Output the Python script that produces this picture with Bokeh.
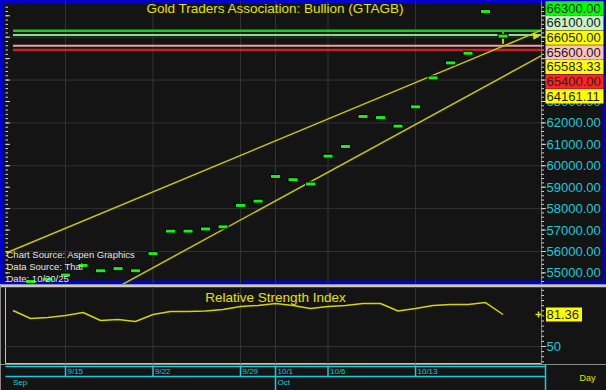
import math
from bokeh.plotting import figure
from bokeh.layouts import column
from bokeh.models import Range1d
from bokeh.core.properties import value
from bokeh.embed import file_html
from bokeh.resources import INLINE

# ---------------- data ----------------
dates = ["9/10", "9/11", "9/12", "9/15", "9/16", "9/17", "9/18", "9/19",
         "9/22", "9/23", "9/24", "9/25", "9/26", "9/29", "9/30", "10/1",
         "10/2", "10/3", "10/6", "10/7", "10/8", "10/9", "10/10", "10/13",
         "10/14", "10/15", "10/16", "10/17", "10/20"]
price_dates = dates[1:]
closes = [54600, 54700, 54900, 55350, 55100, 55200, 55100, 55900,
          56950, 56950, 57050, 57150, 58150, 58350, 59500, 59350, 59150,
          60450, 60900, 62300, 62250, 61850, 62750, 64100, 64800, 65250,
          67200, 66050]
last_high = 66230
last_low = 65700
rsi_values = [85.3, 77.4, 78.4, 80.4, 83.3, 75.5, 76.5, 74.5, 81.4, 84.3,
              84.3, 84.8, 86.3, 89.2, 90.2, 92.1, 90.2, 87.2, 89.2, 90.2,
              92.1, 92.1, 84.8, 87.2, 90.2, 91.2, 91.2, 93.1, 81.36]
rsi_last_text = "81.36"

level_values = [66300, 66100, 65600, 65400]
level_colors = ["#1ccc1c", "#86e086", "#e8a4a4", "#cc2020"]
level_widths = [2.5, 2.0, 2.0, 2.5]

upper_trend_x = [-0.4, 30.2]
upper_trend_y = [55930, 66330]
lower_trend_x = [6.0, 30.2]
lower_trend_y = [54350, 65140]

flag_texts = ["66300.00", "66100.00", "66050.00", "65600.00", "65583.33", "65400.00", "64161.11"]
flag_colors = ["#00ff00", "#c6f2c6", "#ffff00", "#ffc0c0", "#ffff00", "#ff2424", "#ffff00"]

price_ticks = list(range(55000, 68000, 1000))
price_minor = list(range(54600, 67600, 200))
price_grid = list(range(56000, 68000, 2000))
rsi_ticks = [50]
rsi_minor = list(range(35, 110, 5))
date_tick_labels = ["9/15", "9/22", "9/29", "10/1", "10/6", "10/13"]
month_labels = ["Sep", "Oct"]
month_first_dates = ["9/10", "10/1"]

title_text = "Gold Traders Association: Bullion (GTAGB)"
source_lines = ["Chart Source: Aspen Graphics", "Data Source: Thai", "Date: 10/20/25"]
rsi_title = "Relative Strength Index"
period_text = "Day"

# ---------------- layout helpers (reference pixel -> data) ----------------
FONT = value("Liberation Sans")
BG = "#141414"
CYAN = "#1cc8dc"
YEL = "#e2e200"
TREND = "#c8c800"
GRID = "#323232"
TICK = "#d8d8d8"
DARK_TEXT = "#202020"


def ix(px):
    return (px - 12.5) / 17.5


def pv(py):
    return 58000 + (208 - py) / 20.9 * 1000


def rv(py):
    return 50 + (346 - py) / 1.0204


x_idx = list(range(len(dates)))
price_idx = [dates.index(d) for d in price_dates]
tick_idx = [dates.index(t) for t in date_tick_labels]
month_idx = [dates.index(d) for d in month_first_dates]


def panel(height, top_py, bottom_py, yfun):
    f = figure(frame_width=606, frame_height=height,
               x_range=Range1d(ix(0), ix(606)),
               y_range=Range1d(yfun(bottom_py), yfun(top_py)),
               x_axis_location=None, y_axis_location=None,
               output_backend="svg", toolbar_location=None, min_border=0)
    f.background_fill_color = BG
    f.border_fill_color = BG
    f.outline_line_color = None
    f.grid.visible = False
    return f


def value_axis(f, yfun, top_py, bottom_py, ticks, minor, labels, left_ticks):
    # vertical grid at date ticks
    f.segment(x0=tick_idx, y0=[yfun(bottom_py)] * len(tick_idx), x1=tick_idx,
              y1=[yfun(top_py)] * len(tick_idx), line_color=GRID, line_width=1)
    # axis line + ticks on the right
    f.segment(x0=[ix(541)], y0=[yfun(bottom_py)], x1=[ix(541)], y1=[yfun(top_py)],
              line_color="#7a7a7a", line_width=1)
    f.segment(x0=[ix(541)] * len(minor), y0=minor, x1=[ix(543.5)] * len(minor), y1=minor,
              line_color=TICK, line_width=1)
    f.segment(x0=[ix(541)] * len(ticks), y0=ticks, x1=[ix(545.5)] * len(ticks), y1=ticks,
              line_color=TICK, line_width=1)
    if left_ticks:
        f.segment(x0=[ix(5)] * len(minor), y0=minor, x1=[ix(7.5)] * len(minor), y1=minor,
                  line_color=TICK, line_width=1)
        f.segment(x0=[ix(5)] * len(ticks), y0=ticks, x1=[ix(9.5)] * len(ticks), y1=ticks,
                  line_color=TICK, line_width=1)
    f.text(x=[ix(546)] * len(ticks), y=ticks, text=labels, text_align="left",
           text_baseline="middle", text_color=CYAN, text_font=FONT, text_font_size="13px")


# ---------------- main price panel (page y 0..284) ----------------
main = panel(284, 5, 282, pv)
main.outline_line_color = "#0000c8"
main.outline_line_width = 6

main.segment(x0=[ix(5)] * len(price_grid), y0=price_grid, x1=[ix(541)] * len(price_grid),
             y1=price_grid, line_color=GRID, line_width=1)
value_axis(main, pv, 5, 282, price_ticks, price_minor,
           ["%.2f" % t for t in price_ticks], True)

for lv, lc, lw in zip(level_values, level_colors, level_widths):
    main.segment(x0=x_idx[0], y0=lv, x1=ix(541), y1=lv, line_color=lc, line_width=lw)

main.line(upper_trend_x, upper_trend_y, line_color=TREND, line_width=1.5)
main.line(lower_trend_x, lower_trend_y, line_color=TREND, line_width=1.5)

main.segment(x0=price_idx[-1], y0=last_low, x1=price_idx[-1], y1=last_high,
             line_color="#c8c800", line_width=2)
main.rect(x=price_idx, y=closes, width=10, height=4, width_units="screen",
          height_units="screen", fill_color="#16f016", line_color="#000000", line_width=1)
main.scatter(x=[ix(535)], y=[closes[-1]], marker="triangle", angle=-math.pi / 2,
             size=6, fill_color=YEL, line_color=YEL)

main.text(x=[ix(275)], y=[pv(13)], text=[title_text], text_align="center",
          text_baseline="middle", text_color=YEL, text_font=FONT, text_font_size="13.5px")
main.text(x=[ix(6)] * len(source_lines), y=[pv(253 + 11.5 * i) for i in range(len(source_lines))],
          text=source_lines, text_align="left", text_baseline="middle",
          text_color="#e4e4e4", text_font=FONT, text_font_size="9.5px")

flag_y = [pv(12.6 + 14.3 * i) for i in range(len(flag_texts))]
main.rect(x=[ix(574)] * len(flag_texts), y=flag_y, width=58, height=14.3,
          width_units="screen", height_units="screen", fill_color=flag_colors, line_color=None)
main.text(x=[ix(546)] * len(flag_texts), y=flag_y, text=flag_texts, text_align="left",
          text_baseline="middle", text_color=DARK_TEXT, text_font=FONT, text_font_size="13px")

# ---------------- RSI panel (page y 284..364) ----------------
rsi = panel(80, 284, 364, rv)
rsi.segment(x0=[ix(0)], y0=[rv(285.5)], x1=[ix(606)], y1=[rv(285.5)],
            line_color="#c8c8c8", line_width=2.5)
rsi.segment(x0=[ix(5), ix(5)], y0=[rv(287), rv(363)], x1=[ix(5), ix(541)], y1=[rv(363), rv(363)],
            line_color="#c4c4c4", line_width=1)
rsi.segment(x0=[ix(5)] * len(rsi_ticks), y0=rsi_ticks, x1=[ix(541)] * len(rsi_ticks), y1=rsi_ticks,
            line_color=GRID, line_width=1)
value_axis(rsi, rv, 287, 363, rsi_ticks, rsi_minor, [str(t) for t in rsi_ticks], False)

rsi.line(x_idx, rsi_values, line_color="#d4d400", line_width=1.5)
rsi.scatter(x=[ix(538)], y=[rsi_values[-1]], marker="cross", size=6, line_color=YEL, line_width=1.5)
rsi.text(x=[ix(275)], y=[rv(297)], text=[rsi_title], text_align="center",
         text_baseline="middle", text_color=YEL, text_font=FONT, text_font_size="13.5px")
rsi.rect(x=[ix(563.5)], y=[rsi_values[-1]], width=36, height=14, width_units="screen",
         height_units="screen", fill_color="#ffff00", line_color=None)
rsi.text(x=[ix(546)], y=[rsi_values[-1]], text=[rsi_last_text], text_align="left",
         text_baseline="middle", text_color=DARK_TEXT, text_font=FONT, text_font_size="13px")

# ---------------- date strip (page y 364..390) ----------------
strip = figure(frame_width=606, frame_height=26, x_range=Range1d(ix(0), ix(606)),
               y_range=Range1d(0, 26), x_axis_location=None, y_axis_location=None,
               output_backend="svg", toolbar_location=None, min_border=0)
strip.background_fill_color = BG
strip.border_fill_color = BG
strip.outline_line_color = None
strip.grid.visible = False

strip.segment(x0=[ix(5), ix(5)], y0=[24, 14], x1=[ix(545), ix(545)], y1=[24, 14],
              line_color=CYAN, line_width=1.5)
strip.segment(x0=[ix(545)], y0=[26], x1=[ix(545)], y1=[0], line_color=CYAN, line_width=1.5)
tick_bottom = [0 if t in month_idx else 14 for t in tick_idx]
strip.segment(x0=tick_idx, y0=[25] * len(tick_idx), x1=tick_idx, y1=tick_bottom,
              line_color=CYAN, line_width=1.5)
strip.text(x=tick_idx, y=[19.5] * len(tick_idx), text=date_tick_labels, x_offset=2,
           text_align="left", text_baseline="middle", text_color=CYAN,
           text_font=FONT, text_font_size="8px")
strip.text(x=month_idx, y=[8, 8], text=month_labels, x_offset=[0, 2],
           text_align="left", text_baseline="middle", text_color=CYAN,
           text_font=FONT, text_font_size="8px")
strip.text(x=[ix(579)], y=[13], text=[period_text], text_align="left", text_baseline="middle",
           text_color=YEL, text_font=FONT, text_font_size="9px")

layout = column(main, rsi, strip)
open("out.html", "w").write(file_html(layout, INLINE))
